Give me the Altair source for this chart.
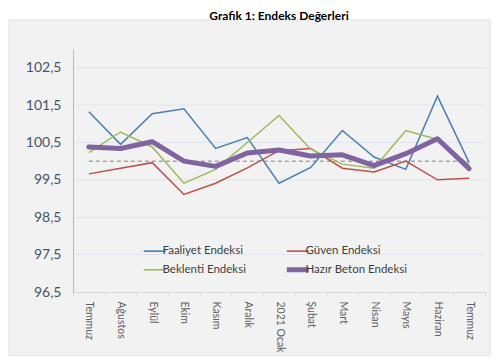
import altair as alt
import pandas as pd

months = ["Temmuz", "Ağustos", "Eylül", "Ekim", "Kasım", "Aralık", "2021 Ocak",
          "Şubat", "Mart", "Nisan", "Mayıs", "Haziran", "Temmuz"]

series_names = ["Faaliyet Endeksi", "Güven Endeksi", "Beklenti Endeksi", "Hazır Beton Endeksi"]
# legend fills column by column, so this order gives rows: Faaliyet|Güven, Beklenti|Hazır Beton
legend_order = ["Faaliyet Endeksi", "Beklenti Endeksi", "Güven Endeksi", "Hazır Beton Endeksi"]
thick_series = "Hazır Beton Endeksi"

faaliyet = [101.32, 100.45, 101.27, 101.40, 100.34, 100.63, 99.41, 99.83, 100.82, 100.11, 99.78, 101.74, 99.96]
guven = [99.66, 99.81, 99.96, 99.11, 99.41, 99.82, 100.28, 100.34, 99.81, 99.71, 100.00, 99.50, 99.54]
beklenti = [100.23, 100.78, 100.38, 99.41, 99.78, 100.50, 101.22, 100.32, 99.92, 99.81, 100.82, 100.58, 99.90]
hazir = [100.38, 100.34, 100.52, 100.00, 99.86, 100.22, 100.30, 100.14, 100.17, 99.88, 100.20, 100.60, 99.80]

ref_level = [100.0, 100.0]
y_ticks = [96.5, 97.5, 98.5, 99.5, 100.5, 101.5, 102.5]

color_map = {"Faaliyet Endeksi": "#4a7ebb", "Güven Endeksi": "#c0504d",
             "Beklenti Endeksi": "#9bbb59", "Hazır Beton Endeksi": "#8064a2"}

rows = []
for name, vals in zip(series_names, [faaliyet, guven, beklenti, hazir]):
    for i, v in enumerate(vals):
        rows.append({"i": i, "v": v, "seri": name})
df = pd.DataFrame(rows)

ref_df = pd.DataFrame({"i": [0, len(months) - 1], "v": ref_level})
grid_df = pd.DataFrame({"v": y_ticks[1:]})

label_expr = "[" + ",".join("'" + m + "'" for m in months) + "][datum.value]"

x_enc = alt.X("i:O", title=None,
              scale=alt.Scale(type="band", paddingInner=0, paddingOuter=0),
              axis=alt.Axis(labelExpr=label_expr, labelAngle=90, labelAlign="left",
                            labelBaseline="middle", labelFontSize=10.5, labelColor="#606060",
                            labelPadding=5, tickBand="extent", ticks=True, tickSize=4,
                            tickColor="#d9d9d9", domainColor="#d9d9d9", grid=False, zindex=1))
y_scale = alt.Scale(domain=[96.5, 103], nice=False, zero=False)
y_axis = alt.Axis(values=y_ticks,
                  labelExpr="replace(format(datum.value, '.1f'), '.', ',')",
                  labelFontSize=14, labelColor="#44546a", labelPadding=12,
                  ticks=False, domainColor="#a9b9d0", grid=False, zindex=1)

frame = alt.Chart(pd.DataFrame({"a": [0]})).mark_rect(
    fill="#f2f2f2", stroke="#dcdfe3", strokeWidth=1
).encode(x=alt.value(-64), x2=alt.value(417), y=alt.value(-29), y2=alt.value(307))

grid = alt.Chart(grid_df).mark_rule(color="#dde4ee", strokeWidth=1).encode(
    y=alt.Y("v:Q", scale=y_scale, title=None, axis=y_axis)
)

ref_line = alt.Chart(ref_df).mark_line(color="#a6a6a6", strokeDash=[4, 3], strokeWidth=1.5).encode(
    x=x_enc,
    y=alt.Y("v:Q", scale=y_scale, title=None),
)

legend = alt.Legend(title=None, orient="none", legendX=76, legendY=196,
                    columns=2, columnPadding=30, rowPadding=2,
                    symbolType="stroke", symbolSize=480,
                    symbolStrokeWidth=alt.ExprRef(
                        expr="datum.value == '" + thick_series + "' ? 5 : 1.6"),
                    labelFontSize=11.5, labelColor="#404040", labelOffset=2)

color_enc = alt.Color("seri:N", scale=alt.Scale(domain=legend_order,
                                                range=[color_map[s] for s in legend_order]),
                      legend=legend)

thin_lines = alt.Chart(df).transform_filter(
    alt.datum.seri != thick_series
).mark_line(strokeWidth=1.5).encode(
    x=x_enc,
    y=alt.Y("v:Q", scale=y_scale),
    color=color_enc,
    order=alt.Order("i:O"),
)

thick_line = alt.Chart(df).transform_filter(
    alt.datum.seri == thick_series
).mark_line(strokeWidth=5, strokeCap="round", strokeJoin="round").encode(
    x=x_enc,
    y=alt.Y("v:Q", scale=y_scale),
    color=color_enc,
    order=alt.Order("i:O"),
)

chart = alt.layer(frame, grid, ref_line, thin_lines, thick_line).properties(
    width=412, height=243,
    title=alt.TitleParams("Grafik 1: Endeks Değerleri", fontSize=12, fontWeight="bold",
                          color="#000000", anchor="middle", offset=0, dy=3, frame="group"),
    autosize=alt.AutoSizeParams(type="none"),
    padding={"left": 65, "top": 41, "right": 7, "bottom": 64},
).configure(font="Lato").configure_view(stroke=None)

chart.save("out.html", embed_options={"renderer": "svg", "actions": False})
